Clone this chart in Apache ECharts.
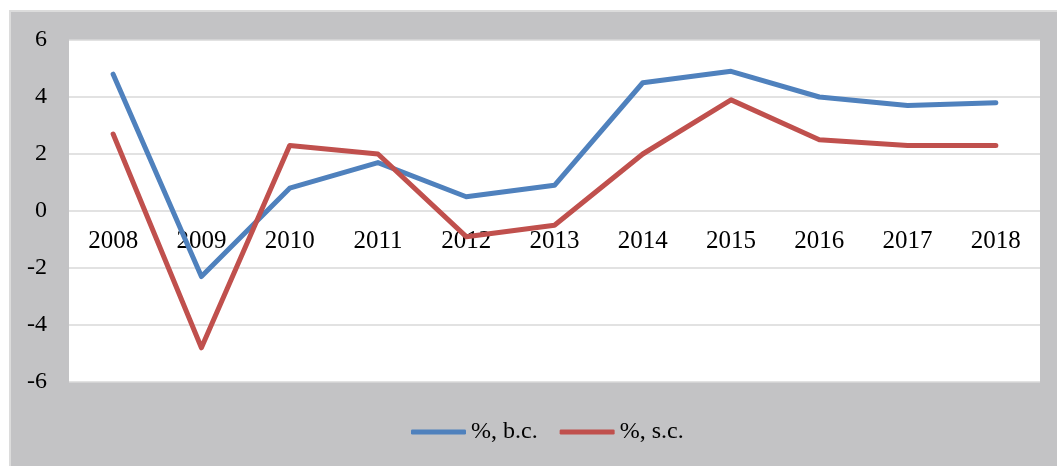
<!DOCTYPE html>
<html>
<head>
<meta charset="utf-8">
<style>
  html, body { margin: 0; padding: 0; background: #fff; }
  #chart { width: 1057px; height: 466px; }
</style>
<script src="https://cdn.jsdelivr.net/npm/echarts@6/dist/echarts.min.js"></script>
</head>
<body>
<div id="chart"></div>
<script>
const years = ['2008', '2009', '2010', '2011', '2012', '2013', '2014', '2015', '2016', '2017', '2018'];
const bcValues = [4.8, -2.3, 0.8, 1.7, 0.5, 0.9, 4.5, 4.9, 4.0, 3.7, 3.8];
const scValues = [2.7, -4.8, 2.3, 2.0, -0.9, -0.5, 2.0, 3.9, 2.5, 2.3, 2.3];
const seriesNames = ['%, b.c.', '%, s.c.'];

const serif = '"Liberation Serif", "DejaVu Serif", serif';

const chart = echarts.init(document.getElementById('chart'));
chart.setOption({
  animation: false,
  backgroundColor: '#fff',
  textStyle: { fontFamily: serif },
  graphic: [{
    type: 'rect',
    z: -10,
    shape: { x: 10, y: 11, width: 1060, height: 470 },
    style: { fill: '#c3c3c5', stroke: '#dcdcdc', lineWidth: 2 }
  }],
  grid: {
    left: 69, right: 17, top: 40, bottom: 84,
    show: true, backgroundColor: '#fff', borderWidth: 0
  },
  legend: {
    bottom: 17,
    left: 406,
    itemWidth: 55,
    itemHeight: 5,
    itemGap: 22,
    icon: 'roundRect',
    textStyle: { fontFamily: serif, fontSize: 24, color: '#000' },
    data: seriesNames
  },
  xAxis: {
    type: 'category',
    data: years,
    z: 1,
    // labels sit just under the zero line, like the original
    position: 'bottom',
    offset: -171,
    axisLine: { show: false, onZero: false },
    axisTick: { show: false },
    axisLabel: { fontFamily: serif, fontSize: 25, color: '#000', margin: 18 }
  },
  yAxis: {
    type: 'value',
    min: -6, max: 6, interval: 2,
    axisLine: { show: false },
    axisTick: { show: false },
    splitLine: { lineStyle: { color: '#d9d9d9', width: 1.5 } },
    axisLabel: { fontFamily: serif, fontSize: 24, color: '#000', margin: 22 }
  },
  series: [
    {
      name: seriesNames[0], type: 'line', data: bcValues, z: 10,
      symbol: 'none', color: '#4f81bd',
      lineStyle: { width: 5, cap: 'round', join: 'round' }
    },
    {
      name: seriesNames[1], type: 'line', data: scValues, z: 10,
      symbol: 'none', color: '#c0504d',
      lineStyle: { width: 5, cap: 'round', join: 'round' }
    }
  ]
});
</script>
</body>
</html>
